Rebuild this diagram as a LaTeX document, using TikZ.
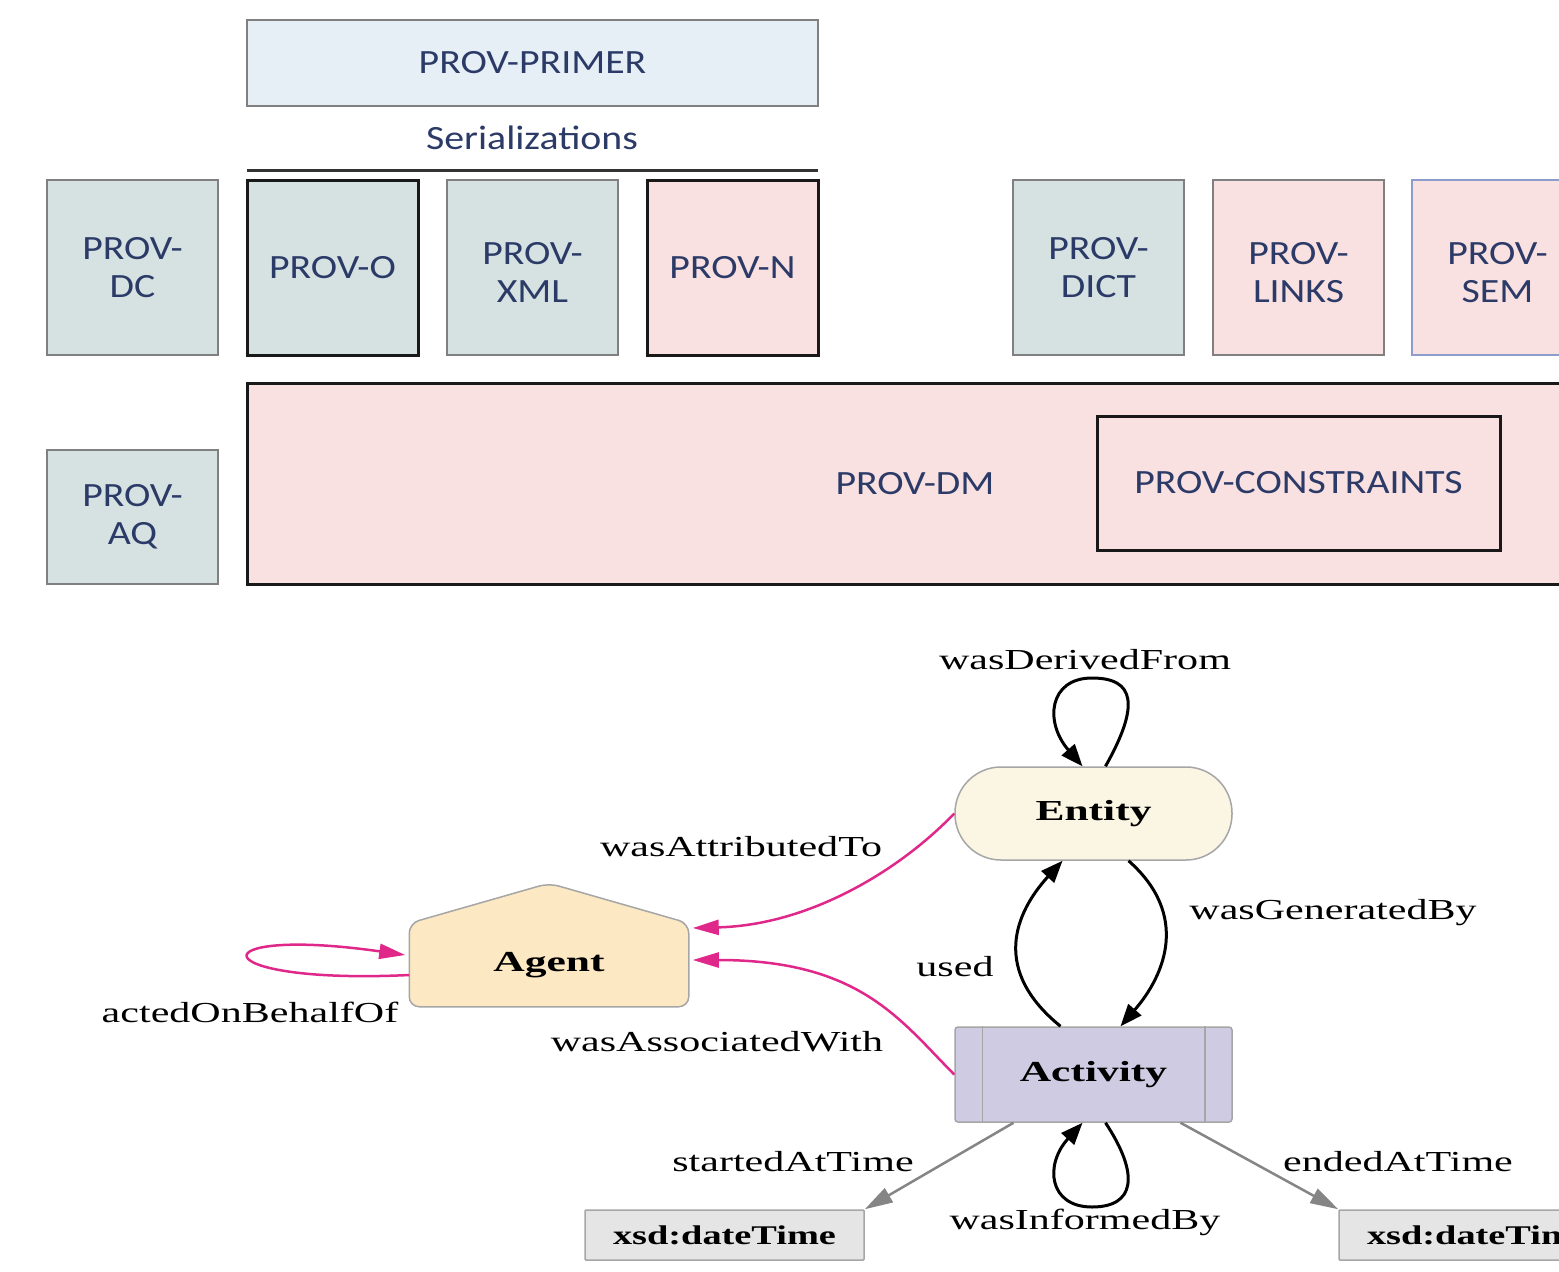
\documentclass[tikz,border=0pt]{standalone}
\usepackage{fontspec}
\usetikzlibrary{arrows.meta,calc}
\newfontfamily\calfont[FakeStretch=1.17]{Carlito}
\newfontfamily\gvfont[FakeStretch=1.45]{Liberation Serif}
\newfontfamily\gvbfont[FakeStretch=1.5]{Liberation Serif}
\newfontfamily\xsdfont[FakeStretch=1.42]{Liberation Serif}
\definecolor{navy}{HTML}{2B3A67}
\definecolor{primerfill}{HTML}{E6EEF6}
\definecolor{tealfill}{HTML}{D6E2E2}
\definecolor{pinkfill}{HTML}{F9E0E1}
\definecolor{boxgray}{HTML}{808080}
\definecolor{semblue}{HTML}{8C9DCB}
\definecolor{entfill}{HTML}{FBF6E3}
\definecolor{agfill}{HTML}{FDE8C4}
\definecolor{actfill}{HTML}{CFCBE3}
\definecolor{xsdfill}{HTML}{E5E5E5}
\definecolor{edgepink}{HTML}{E0288A}
\definecolor{edgegray}{HTML}{858585}
\pgfdeclarelayer{background}
\pgfsetlayers{background,main}
\tikzset{
  spec/.style={draw=boxgray, line width=2pt, text=navy, align=center, inner sep=0pt,
    font=\calfont\fontsize{34}{38}\selectfont, minimum width=171pt, minimum height=175pt},
  lowtext/.style={text height=70pt},
  thickblack/.style={draw=black!90, line width=3pt},
  teal/.style={fill=tealfill},
  pinkbox/.style={fill=pinkfill},
  captxt/.style={text=navy, font=\calfont\fontsize{34}{38}\selectfont, inner sep=0pt},
  gvnode/.style={draw=boxgray!70, line width=1.5pt, inner sep=0pt,
    font=\gvbfont\bfseries\fontsize{29}{34}\selectfont},
  xsdbox/.style={gvnode, fill=xsdfill, rounded corners=1pt, minimum width=279pt, minimum height=50pt,
    font=\xsdfont\bfseries\fontsize{27}{32}\selectfont},
  gvlabel/.style={inner sep=0pt, font=\gvfont\fontsize{29}{34}\selectfont},
  blk/.style={draw=black, line width=3pt, -{Triangle[length=22pt,width=17pt]}},
  pnk/.style={draw=edgepink, line width=2.5pt, -{Triangle[length=26pt,width=15pt]}},
  gry/.style={draw=edgegray, line width=2.5pt, -{Triangle[length=28pt,width=16pt]}},
}
\begin{document}
\begin{tikzpicture}[x=1pt,y=-1pt]
\useasboundingbox (0,0) rectangle (1559,1272);
\clip (0,0) rectangle (1559,1272);
\begin{pgfonlayer}{background}
\fill[white] (0,0) rectangle (1559,1272);
\end{pgfonlayer}

% ---------- top: specification boxes ----------
\node[spec, fill=primerfill, minimum width=571pt, minimum height=86pt] (primer) at (532.5,63) {PROV-PRIMER};
\node[captxt] (serial) at (532,138) {Serializations};
\draw[line width=3pt, black!80] (247,170) -- (818,170);

\node[spec, teal] (dc) at (132.5,267.5) {PROV-\\DC};
\node[spec, teal, thickblack] (provo) at (332.5,267.5) {PROV-O};
\node[spec, teal, lowtext] (xml) at (532.5,267.5) {PROV-\\XML};
\node[spec, pinkbox, thickblack] (provn) at (732.5,267.5) {PROV-N};
\node[spec, teal] (dict) at (1098.5,267.5) {PROV-\\DICT};
\node[spec, pinkbox, lowtext] (links) at (1298.5,267.5) {PROV-\\LINKS};
\node[spec, pinkbox, draw=semblue, lowtext] (sem) at (1497.5,267.5) {PROV-\\SEM};

\node[spec, pinkbox, thickblack, minimum width=1336pt, minimum height=201pt] (dm) at (915,483.5) {PROV-DM};
\node[spec, thickblack, fill=none, minimum width=403pt, minimum height=134pt] (constraints) at (1298.5,483) {PROV-CONSTRAINTS};
\node[spec, teal, minimum height=134pt] (aq) at (132.5,517) {PROV-\\AQ};

% ---------- bottom: PROV core graph ----------
\node[gvnode, fill=entfill, rounded corners=46pt, minimum width=277pt, minimum height=93pt] (entity) at (1093.5,813.5) {Entity};
\node[gvnode, draw=none, minimum width=278pt, minimum height=82pt] (agent) at (549,965) {Agent};
\begin{pgfonlayer}{background}
\draw[draw=boxgray!70, line width=1.5pt, fill=agfill, rounded corners=10pt]
  (agent.south west) -- (agent.north west) -- ($(agent.north)+(0,-40)$) -- (agent.north east) -- (agent.south east) -- cycle;
\end{pgfonlayer}
\node[gvnode, fill=actfill, rounded corners=3pt, minimum width=277pt, minimum height=95pt] (activity) at (1093.5,1074.5) {Activity};
\draw[boxgray!70, line width=1.5pt] ($(activity.north west)+(28,0)$) -- ($(activity.south west)+(28,0)$);
\draw[boxgray!70, line width=1.5pt] ($(activity.north east)+(-28,0)$) -- ($(activity.south east)+(-28,0)$);
\node[xsdbox] (xsdA) at (724.5,1235) {xsd:dateTime};
\node[xsdbox] (xsdB) at (1478.5,1235) {xsd:dateTime};

% edges
\draw[blk] ($(entity.north)+(12,0)$) .. controls (1140,705) and (1135,678) .. (1092,678)
  .. controls (1049,678) and (1044,722) .. ($(entity.north)+(-11,0)$);
\draw[blk] ($(activity.north)+(-33,0)$) .. controls (985,965) and (1022,905) .. ($(entity.south)+(-31,0)$);
\draw[blk] ($(entity.south)+(35,0)$) .. controls (1190,915) and (1165,975) .. ($(activity.north)+(27,0)$);
\draw[blk] ($(activity.south)+(12,0)$) .. controls (1140,1175) and (1135,1207) .. (1092,1207)
  .. controls (1049,1207) and (1044,1165) .. ($(activity.south)+(-11,0)$);
\draw[pnk] (entity.west) .. controls (900,870) and (810,925) .. ($(agent.east)+(4,-37)$);
\draw[pnk] (activity.west) .. controls (900,1020) and (860,960) .. ($(agent.east)+(4,-5)$);
\draw[pnk] ($(agent.west)+(0,10)$) .. controls (200,985) and (195,925) .. ($(agent.west)+(-4,-10)$);
\draw[gry] ($(activity.south)+(-80,0)$) -- (xsdA.north east);
\draw[gry] ($(activity.south)+(87,0)$) -- (xsdB.north west);

% edge labels
\node[gvlabel] (lDerived) at (1085,660) {wasDerivedFrom};
\node[gvlabel] (lAttr) at (741,847) {wasAttributedTo};
\node[gvlabel] (lAssoc) at (717,1042) {wasAssociatedWith};
\node[gvlabel] (lActed) at (250,1012) {actedOnBehalfOf};
\node[gvlabel] (lUsed) at (955,967) {used};
\node[gvlabel] (lGen) at (1333,913) {wasGeneratedBy};
\node[gvlabel] (lStart) at (793,1162) {startedAtTime};
\node[gvlabel] (lEnd) at (1398,1162) {endedAtTime};
\node[gvlabel] (lInf) at (1085,1222) {wasInformedBy};
\end{tikzpicture}
\end{document}
